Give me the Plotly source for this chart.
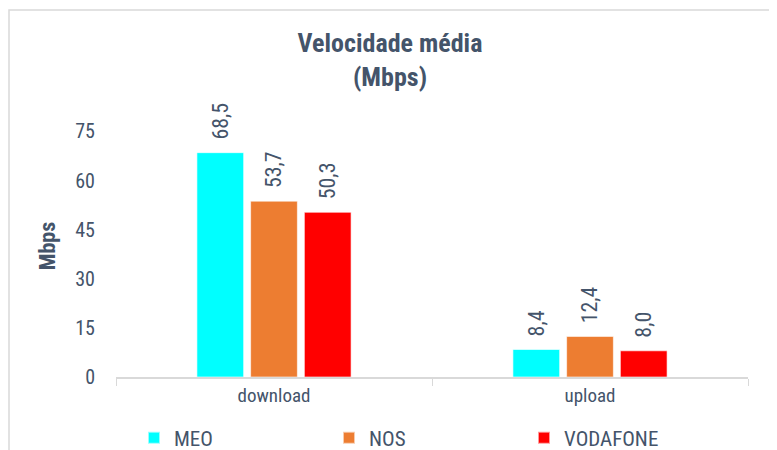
import plotly.graph_objects as go

categories = ["download", "upload"]
series_names = ["MEO", "NOS", "VODAFONE"]
meo = [68.5, 8.4]
nos = [53.7, 12.4]
vodafone = [50.3, 8.0]
colors = ["#00FFFF", "#ED7D31", "#FF0000"]
y_ticks = [0, 15, 30, 45, 60, 75]

FONT = "Liberation Sans Narrow, Arial Narrow, Roboto Condensed, Liberation Sans, sans-serif"
TXT = "#44546A"

# page body has an 8px margin, so figure coordinates are screen - 8
L, R, T, B = 108, 740, 107, 369
PW, PH = R - L, B - T

fig = go.Figure()
for name, vals, col in zip(series_names, [meo, nos, vodafone], colors):
    fig.add_trace(go.Bar(
        x=categories, y=vals, name=name,
        marker=dict(color=col, line=dict(color="rgba(255,255,255,0.6)", width=1)),
        texttemplate="\u00a0\u00a0%{y:.1f}", textposition="outside", textangle=-90,
        textfont=dict(family=FONT, size=22, color=TXT),
        cliponaxis=False,
    ))

fig.update_layout(
    width=777, height=450,
    margin=dict(l=L, r=777 - R, t=T, b=450 - B, autoexpand=False),
    paper_bgcolor="white", plot_bgcolor="white",
    separators=",.",
    barmode="group", bargap=0.49, bargroupgap=0.13,
    font=dict(family=FONT, color=TXT, size=19),
    title=dict(text="<b>Velocidade média<br>(Mbps)</b>", x=(390 - 8) / 777, xanchor="center",
               y=1 - 44 / 450, yanchor="top",
               font=dict(family=FONT, size=26, color=TXT)),
    xaxis=dict(showline=True, linecolor="#D9D9D9", linewidth=1.5,
               ticks="outside", tickson="boundaries", ticklen=7, tickcolor="#D9D9D9",
               tickfont=dict(size=19, color=TXT), showgrid=False),
    yaxis=dict(range=[0, 80], tickvals=y_ticks, showgrid=False, zeroline=False,
               showline=False, ticks="", ticklabelstandoff=20,
               tickfont=dict(size=20, color=TXT),
               title=dict(text="<b>Mbps</b>", font=dict(size=22, color=TXT), standoff=13)),
    legend=dict(orientation="h", x=(126 - L) / PW, xanchor="left",
                y=(B - 430) / PH, yanchor="middle",
                entrywidth=150, entrywidthmode="pixels",
                font=dict(size=21, color=TXT), itemsizing="constant"),
    shapes=[dict(type="rect", xref="paper", yref="paper",
                 x0=(1 - L) / PW, x1=(800 - L) / PW,
                 y0=(B - 470) / PH, y1=(B - 2) / PH,
                 line=dict(color="#D9D9D9", width=1.5), fillcolor="rgba(0,0,0,0)",
                 layer="below")],
)

fig.write_html("out.html")
